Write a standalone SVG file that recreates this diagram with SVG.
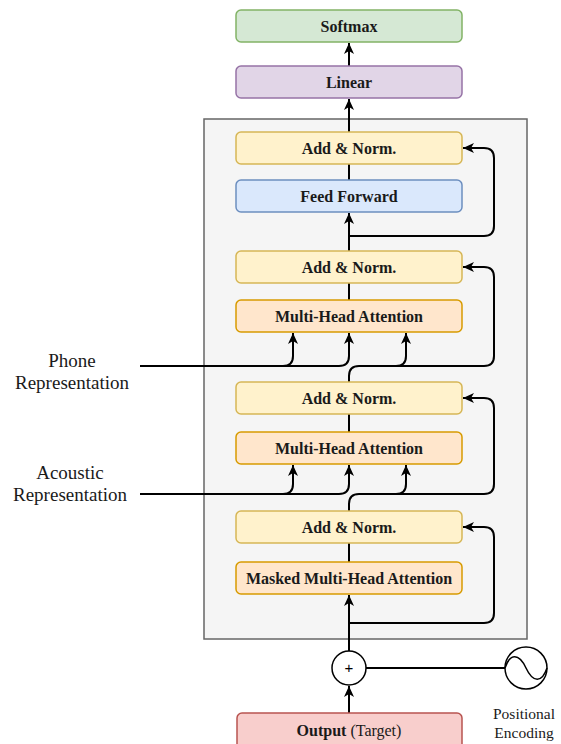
<svg xmlns="http://www.w3.org/2000/svg" width="561" height="744" viewBox="0 0 561 744">
<style>
.box{stroke-width:1.5}
.yel{fill:#fff2cc;stroke:#d6b656}
.ora{fill:#ffe6cc;stroke:#d79b00}
.blu{fill:#dae8fc;stroke:#6c8ebf}
.pur{fill:#e1d5e7;stroke:#9673a6}
.grn{fill:#d5e8d4;stroke:#82b366}
.red{fill:#f8cecc;stroke:#b85450}
.lbl{font-family:"Liberation Serif","Times New Roman",serif;font-size:16px;font-weight:bold;fill:#1a1a1a;text-anchor:middle}
.side{font-family:"Liberation Serif","Times New Roman",serif;font-size:19px;fill:#1a1a1a;text-anchor:middle}
.pe{font-family:"Liberation Serif","Times New Roman",serif;font-size:15.5px;fill:#1a1a1a;text-anchor:middle}
.ln{fill:none;stroke:#000;stroke-width:2}
.ar{marker-end:url(#arr)}
</style>
<defs>
<marker id="arr" viewBox="0 0 12 12" refX="11" refY="6" markerWidth="12" markerHeight="12" markerUnits="userSpaceOnUse" orient="auto">
<path d="M0,1 L11,6 L0,11 L3,6 Z" fill="#000"/>
</marker>
</defs>
<rect width="561" height="744" fill="#fff"/>
<g id="container"><rect x="204" y="119" width="323" height="520" fill="#f5f5f5" stroke="#666" stroke-width="1.5"/></g>
<g id="connectors">
<path class="ln ar" d="M349,713 L349,686"/>
<path class="ln" d="M366,668 L505,668"/>
<path class="ln ar" d="M349,651 L349,595"/>
<path class="ln ar" d="M349,623 L484,623 Q494,623 494,613 L494,537 Q494,527 484,527 L463,527"/>
<path class="ln" d="M349,562 L349,543"/>
<path class="ln ar" d="M349,511 L349,504 Q349,494 359,494 L484,494 Q494,494 494,484 L494,408 Q494,398 484,398 L463,398"/>
<path class="ln ar" d="M359,494 L396,494 Q406,494 406,484 L406,465"/>
<path class="ln ar" d="M140,494 L283,494 Q293,494 293,484 L293,465"/>
<path class="ln ar" d="M283,494 L339,494 Q349,494 349,484 L349,465"/>
<path class="ln" d="M349,432 L349,414"/>
<path class="ln ar" d="M349,382 L349,376 Q349,366 359,366 L484,366 Q494,366 494,356 L494,277 Q494,267 484,267 L463,267"/>
<path class="ln ar" d="M359,366 L396,366 Q406,366 406,356 L406,333"/>
<path class="ln ar" d="M140,366 L283,366 Q293,366 293,356 L293,333"/>
<path class="ln ar" d="M283,366 L339,366 Q349,366 349,356 L349,333"/>
<path class="ln" d="M349,300 L349,283"/>
<path class="ln ar" d="M349,251 L349,213"/>
<path class="ln ar" d="M349,236 L484,236 Q494,236 494,226 L494,158 Q494,148 484,148 L463,148"/>
<path class="ln" d="M349,180 L349,164"/>
<path class="ln ar" d="M349,132 L349,99"/>
<path class="ln ar" d="M349,66 L349,43"/>
</g>
<g id="softmax"><rect class="box grn" x="236" y="10" width="226" height="32" rx="5"/><text class="lbl" x="349" y="32">Softmax</text></g>
<g id="linear"><rect class="box pur" x="236" y="66" width="226" height="32" rx="5"/><text class="lbl" x="349" y="88">Linear</text></g>
<g id="addnorm1"><rect class="box yel" x="236" y="132" width="226" height="32" rx="5"/><text class="lbl" x="349" y="154">Add &amp; Norm.</text></g>
<g id="feedforward"><rect class="box blu" x="236" y="180" width="226" height="32" rx="5"/><text class="lbl" x="349" y="202">Feed Forward</text></g>
<g id="addnorm2"><rect class="box yel" x="236" y="251" width="226" height="32" rx="5"/><text class="lbl" x="349" y="273">Add &amp; Norm.</text></g>
<g id="mha1"><rect class="box ora" x="236" y="300" width="226" height="32" rx="5"/><text class="lbl" x="349" y="322">Multi-Head Attention</text></g>
<g id="addnorm3"><rect class="box yel" x="236" y="382" width="226" height="32" rx="5"/><text class="lbl" x="349" y="404">Add &amp; Norm.</text></g>
<g id="mha2"><rect class="box ora" x="236" y="432" width="226" height="32" rx="5"/><text class="lbl" x="349" y="454">Multi-Head Attention</text></g>
<g id="addnorm4"><rect class="box yel" x="236" y="511" width="226" height="32" rx="5"/><text class="lbl" x="349" y="533">Add &amp; Norm.</text></g>
<g id="maskedmha"><rect class="box ora" x="236" y="562" width="226" height="32" rx="5"/><text class="lbl" x="349" y="584">Masked Multi-Head Attention</text></g>
<g id="output"><rect class="box red" x="237" y="713" width="225" height="40" rx="5"/><text class="lbl" x="349" y="736">Output<tspan font-weight="normal"> (Target)</tspan></text></g>
<g id="plus"><circle cx="349" cy="668" r="17" fill="#fff" stroke="#000" stroke-width="1.5"/><text x="349" y="673" font-family="Liberation Sans, Arial, sans-serif" font-size="15" text-anchor="middle" fill="#000">+</text></g>
<g id="posenc"><circle cx="526" cy="668" r="21" fill="#fff" stroke="#000" stroke-width="1.5"/><path d="M505,668 C510,653 519,653 526,668 C533,683 542,683 547,668" fill="none" stroke="#000" stroke-width="1.5"/><text class="pe" x="524" y="719">Positional</text><text class="pe" x="524" y="738">Encoding</text></g>
<g id="phone"><text class="side" x="72" y="367">Phone</text><text class="side" x="72" y="389">Representation</text></g>
<g id="acoustic"><text class="side" x="70" y="479">Acoustic</text><text class="side" x="70" y="501">Representation</text></g>
</svg>
